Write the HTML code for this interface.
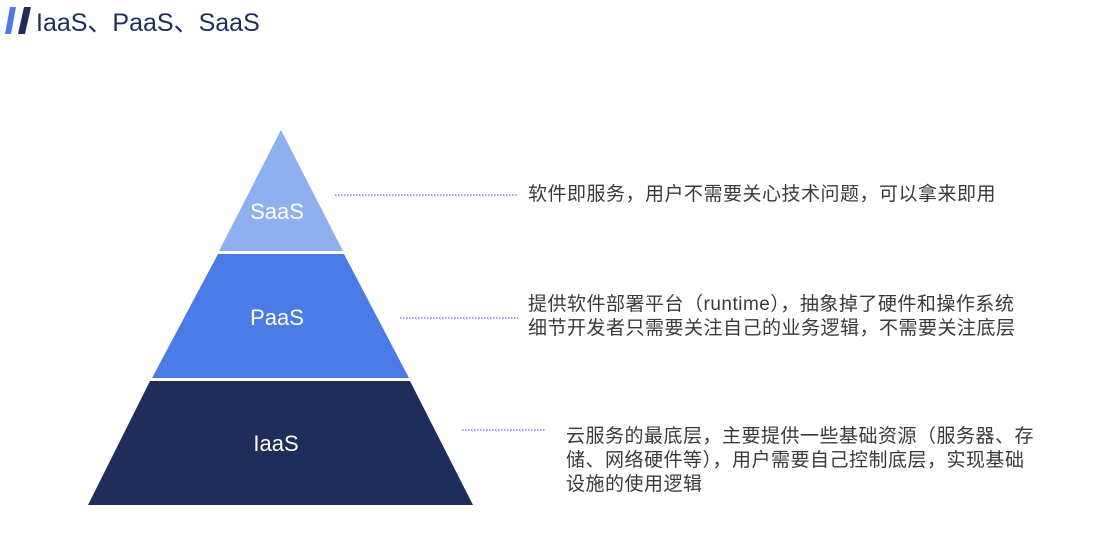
<!DOCTYPE html>
<html><head><meta charset="utf-8"><style>
html,body{margin:0;padding:0;background:#fff;width:1109px;height:555px;overflow:hidden;position:relative;font-family:"Liberation Sans","Noto Sans CJK SC",sans-serif}
.t{position:absolute;font-size:19px;letter-spacing:0.5px;color:#3a3a3a;line-height:24px;white-space:nowrap}
</style></head><body>
<svg width="1109" height="555" style="position:absolute;left:0;top:0">
<polygon points="10,7 16,7 11,34 5,34" fill="#4a7be6"/>
<polygon points="24,7 31,7 25,34 18,34" fill="#1e2d5a"/>
<text x="36" y="31" font-size="25" fill="#1e2d5a" font-family="Liberation Sans,Noto Sans CJK SC,sans-serif">IaaS、PaaS、SaaS</text>
<polygon points="281,130 343,251 219,251" fill="#8fb0f0"/>
<polygon points="218,254 344,254 409,378 152,378" fill="#4a7be6"/>
<polygon points="150,381 410,381 473,505 88,505" fill="#1e2d5a"/>
<text x="277" y="219" font-size="22" fill="#fff" text-anchor="middle" font-family="Liberation Sans,sans-serif">SaaS</text>
<text x="277" y="325" font-size="22" fill="#fff" text-anchor="middle" font-family="Liberation Sans,sans-serif">PaaS</text>
<text x="276" y="451" font-size="22" fill="#fff" text-anchor="middle" font-family="Liberation Sans,sans-serif">IaaS</text>
<g stroke="#6b8fd6" stroke-width="1.5" stroke-dasharray="1.5,1.5">
<line x1="335" y1="195" x2="518" y2="195"/>
<line x1="400" y1="318" x2="518" y2="318"/>
<line x1="462" y1="430" x2="545" y2="430"/>
</g>
</svg>
<div class="t" style="left:528px;top:183px">软件即服务，用户不需要关心技术问题，可以拿来即用</div>
<div class="t" style="left:528px;top:293px">提供软件部署平台（runtime），抽象掉了硬件和操作系统<br>细节开发者只需要关注自己的业务逻辑，不需要关注底层</div>
<div class="t" style="left:566px;top:425px">云服务的最底层，主要提供一些基础资源（服务器、存<br>储、网络硬件等），用户需要自己控制底层，实现基础<br>设施的使用逻辑</div>
</body></html>
